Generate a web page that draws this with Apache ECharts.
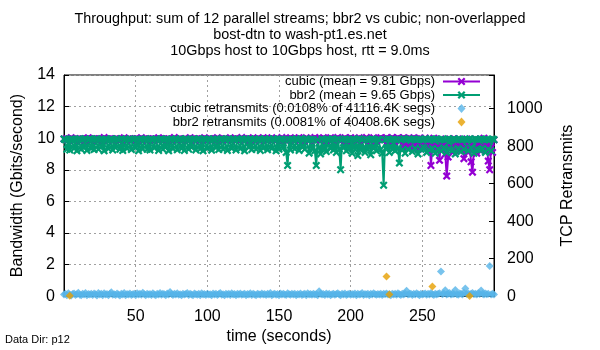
<!DOCTYPE html>
<html>
<head>
<meta charset="utf-8">
<script src="https://cdn.jsdelivr.net/npm/echarts@6/dist/echarts.min.js"></script>
<style>
  html, body { margin: 0; padding: 0; background: #fff; }
  #chart { width: 600px; height: 350px; }
</style>
</head>
<body>
<div id="chart"></div>
<script>
// time axis: one sample per second, starting at t = 0
const startTime = 0
const stepSec = 1

// cubic throughput, Gbps
const cubic = [
  9.95, 9.93, 9.96, 9.92, 9.94, 10.03, 9.95, 9.91, 9.96, 9.93, 9.94, 9.96, 9.92, 9.95, 9.9, 9.94, 9.96, 10.02, 9.93, 9.95,
  9.92, 9.96, 9.94, 9.9, 9.95, 9.93, 9.96, 9.92, 10.04, 9.94, 9.95, 9.91, 9.96, 9.93, 9.94, 9.92, 9.95, 9.96, 9.9, 9.94,
  9.96, 9.93, 10.02, 9.95, 9.92, 9.94, 9.96, 9.91, 9.95, 9.93, 9.94, 9.96, 9.92, 9.95, 10.03, 9.93, 9.94, 9.96, 9.9, 9.95,
  9.93, 9.94, 9.96, 9.92, 9.95, 9.91, 10.02, 9.94, 9.96, 9.93, 9.95, 9.92, 9.94, 9.96, 9.9, 9.95, 9.93, 10.04, 9.94, 9.92,
  9.95, 9.96, 9.93, 9.91, 9.94, 9.96, 9.92, 9.95, 10.03, 9.93, 9.94, 9.96, 9.9, 9.95, 9.92, 9.94, 9.96, 9.93, 10.02, 9.95,
  9.92, 9.94, 9.96, 9.93, 9.95, 9.9, 9.94, 10.03, 9.96, 9.92, 9.95, 9.93, 9.94, 9.96, 9.91, 9.95, 10.02, 9.93, 9.94, 9.96,
  9.93, 9.95, 9.92, 9.96, 10.04, 9.94, 9.91, 9.95, 9.93, 9.96, 9.92, 9.94, 10.02, 9.95, 9.93, 9.96, 9.9, 9.94, 9.95, 10.03,
  9.94, 9.96, 9.92, 9.95, 9.93, 10.02, 9.94, 9.91, 9.96, 9.93, 9.95, 9.92, 10.04, 9.94, 9.88, 9.95, 9.93, 9.96, 10.02, 9.94,
  9.95, 9.92, 9.96, 9.93, 10.03, 9.9, 9.94, 9.96, 9.92, 10.02, 9.95, 9.88, 9.94, 9.96, 9.93, 10.04, 9.9, 9.95, 9.93, 9.96,
  9.92, 10.03, 9.94, 9.88, 9.96, 9.93, 10.02, 9.95, 9.91, 9.94, 9.96, 10.04, 9.92, 9.95, 9.93, 9.9, 10.02, 9.86, 9.95, 9.94,
  10.03, 9.92, 9.96, 9.94, 9.9, 9.95, 10.02, 9.93, 9.96, 9.88, 9.94, 10.04, 9.95, 9.92, 9.86, 9.96, 10.02, 9.93, 9.9, 9.95,
  9.94, 10.03, 9.88, 9.96, 9.93, 10.02, 9.85, 9.95, 9.92, 10.04, 9.9, 9.94, 9.96, 10.02, 9.8, 9.95, 9.93, 10.03, 9.6, 9.96,
  9.5, 10.0, 9.95, 9.4, 10.02, 9.6, 9.97, 9.3, 10.0, 9.55, 9.9, 9.35, 10.01, 9.6, 9.2, 9.95, 8.27, 9.5, 10.0, 9.3,
  9.9, 9.45, 8.6, 9.95, 9.25, 9.6, 9.0, 7.6, 8.8, 9.95, 9.4, 9.1, 9.97, 9.3, 9.55, 9.95, 9.2, 9.6, 9.9, 8.7,
  9.35, 9.95, 9.1, 9.5, 8.5, 7.85, 9.3, 9.95, 9.05, 9.6, 9.9, 9.2, 9.45, 10.0, 9.3, 9.55, 8.55, 8.0, 9.4, 9.1, 9.9
]

// bbr2 throughput, Gbps
const bbr2 = [
  9.95, 9.9, 9.3, 9.92, 9.25, 9.96, 9.88, 9.35, 9.9, 9.2, 9.93, 9.97, 9.3, 9.9, 9.4, 9.95, 9.22, 9.9, 9.96, 9.35,
  9.9, 9.28, 9.93, 9.97, 9.3, 9.9, 9.45, 9.92, 9.2, 9.95, 9.9, 9.33, 9.88, 9.96, 9.25, 9.9, 9.4, 9.94, 9.9, 9.3,
  9.97, 9.22, 9.9, 9.93, 9.35, 9.9, 9.96, 9.28, 9.92, 9.9, 9.4, 9.95, 9.2, 9.9, 9.93, 9.32, 9.9, 9.97, 9.3, 9.9,
  9.25, 9.93, 9.9, 9.38, 9.95, 9.9, 9.22, 9.92, 9.96, 9.3, 9.9, 9.45, 9.93, 9.2, 9.9, 9.95, 9.33, 9.9, 9.97, 9.26,
  9.9, 9.94, 9.35, 9.9, 9.22, 9.96, 9.9, 9.3, 9.93, 9.42, 9.9, 9.95, 9.25, 9.9, 9.97, 9.32, 9.9, 9.2, 9.94, 9.9,
  9.35, 9.96, 9.9, 9.24, 9.93, 9.9, 9.4, 9.95, 9.28, 9.9, 9.97, 9.3, 9.9, 9.92, 9.22, 9.96, 9.9, 9.36, 9.93, 9.9,
  9.25, 9.95, 9.9, 9.33, 9.97, 9.9, 9.2, 9.93, 9.9, 9.42, 9.96, 9.28, 9.9, 9.94, 9.3, 9.9, 9.95, 9.22, 9.9, 9.37,
  9.96, 9.9, 9.26, 9.93, 9.9, 9.35, 9.97, 9.9, 9.2, 9.94, 9.3, 9.9, 9.95, 9.4, 9.9, 9.1, 8.27, 9.9, 9.25, 9.93,
  9.9, 9.32, 9.96, 9.9, 9.22, 9.94, 9.45, 9.9, 9.3, 9.97, 9.9, 9.05, 9.93, 9.35, 9.9, 9.2, 8.27, 9.9, 9.4, 9.0,
  9.95, 9.3, 9.9, 9.15, 9.93, 9.9, 9.35, 9.96, 9.25, 9.9, 9.1, 9.94, 9.3, 8.0, 9.9, 9.4, 9.95, 9.2, 9.9, 9.33,
  9.9, 9.05, 9.94, 9.3, 9.9, 8.9, 9.96, 9.25, 9.9, 9.4, 9.1, 9.93, 9.3, 9.9, 8.95, 9.95, 9.35, 9.9, 9.2, 9.93,
  9.9, 9.3, 9.05, 7.02, 9.9, 9.4, 9.95, 9.1, 9.9, 9.3, 9.93, 9.2, 9.9, 9.35, 8.42, 9.9, 9.25, 9.96, 9.05, 9.9,
  9.3, 9.94, 9.9, 9.15, 9.95, 9.35, 9.9, 9.0, 9.93, 9.3, 9.9, 9.4, 9.96, 9.1, 9.9, 9.25, 9.94, 9.35, 9.9, 9.05,
  9.95, 9.3, 9.9, 9.2, 9.93, 9.4, 9.9, 9.1, 9.96, 9.3, 9.9, 9.25, 9.94, 9.0, 9.9, 9.35, 9.95, 9.15, 9.9, 9.3,
  9.93, 9.9, 9.2, 9.96, 9.4, 9.9, 9.05, 9.94, 9.3, 9.9, 9.25, 9.95, 9.35, 9.9, 9.1, 9.93, 9.3, 9.9, 9.2, 9.95, 9.9
]

// cubic retransmits per second
const cubicRetrans = [
  8, 12, 5, 15, 9, 3, 11, 14, 6, 10, 18, 7, 4, 13, 9, 16, 5, 11, 8, 12,
  6, 14, 10, 3, 17, 9, 12, 5, 15, 8, 11, 4, 13, 20, 7, 10, 6, 14, 9, 3,
  12, 8, 16, 5, 11, 9, 14, 6, 10, 13, 4, 15, 8, 12, 7, 18, 10, 5, 13, 9,
  11, 6, 15, 8, 4, 12, 9, 16, 7, 13, 10, 5, 14, 8, 22, 11, 6, 12, 9, 15,
  7, 10, 4, 13, 8, 11, 16, 6, 12, 9, 5, 14, 10, 7, 12, 4, 15, 9, 11, 6,
  13, 8, 10, 5, 14, 9, 12, 6, 11, 16, 7, 10, 4, 13, 9, 12, 6, 15, 8, 11,
  5, 12, 9, 14, 7, 10, 13, 4, 11, 8, 15, 6, 12, 9, 5, 13, 10, 7, 14, 8,
  11, 6, 12, 9, 16, 5, 10, 13, 7, 11, 4, 14, 8, 12, 9, 6, 15, 10, 7, 12,
  9, 13, 5, 11, 8, 14, 6, 10, 12, 4, 15, 9, 11, 7, 13, 8, 10, 5, 26, 12,
  8, 11, 6, 14, 9, 12, 5, 10, 13, 7, 11, 15, 8, 4, 12, 9, 14, 6, 10, 13,
  7, 11, 9, 14, 5, 12, 8, 10, 16, 6, 11, 9, 13, 4, 12, 8, 15, 10, 7, 11,
  9, 13, 6, 12, 10, 14, 8, 11, 5, 13, 9, 12, 7, 15, 10, 6, 12, 9, 14, 28,
  8, 11, 13, 6, 12, 9, 15, 10, 5, 13, 8, 11, 14, 7, 12, 9, 16, 10, 6, 13,
  9, 12, 15, 131, 10, 14, 31, 8, 12, 16, 9, 13, 11, 33, 10, 7, 14, 12, 9, 18,
  40, 11, 14, 8, 12, 16, 10, 13, 9, 15, 11, 30, 12, 8, 14, 10, 13, 161, 9, 12, 8
]

// bbr2 retransmits: [time, count], only the ones that show above the cubic ones
const bbr2Retrans = [[4, 2], [225, 104], [227, 9], [257, 51], [283, 1]]

const legendNames = [
  'cubic (mean = 9.81 Gbps)',
  'bbr2 (mean = 9.65 Gbps)',
  'cubic retransmits (0.0108% of 41116.4K segs)',
  'bbr2 retransmits (0.0081% of 40408.6K segs)'
]

const xMax = 300
const xTick = 50
const yMax = 14
const yTick = 2
const y2Max = 1180
const y2Tick = 200
const y2LabelMax = 1000

const FONT = 'Liberation Sans, Arial, sans-serif'
const crossSymbol = 'path://M0,2L2,0L5,3L8,0L10,2L7,5L10,8L8,10L5,7L2,10L0,8L3,5Z'
// diamond centred in a box the size of the legend icon, so it is not stretched
const legendDiamond = 'path://M0,0M37,10M18.5,0.5L22.5,5L18.5,9.5L14.5,5Z'

function withTime (vals) {
  return vals.map((v, i) => [startTime + i * stepSec, v])
}

const chart = echarts.init(document.getElementById('chart'))

const gridLine = {
  show: true,
  lineStyle: { color: '#a0a0a0', type: [2, 3], width: 1 }
}

const option = {
  animation: false,
  backgroundColor: '#fff',
  textStyle: { fontFamily: FONT },
  title: {
    text: 'Throughput: sum of 12 parallel streams; bbr2 vs cubic; non-overlapped\nbost-dtn to wash-pt1.es.net\n10Gbps host to 10Gbps host, rtt = 9.0ms',
    left: 'center',
    top: 6,
    textStyle: {
      fontFamily: FONT,
      fontSize: 14.4,
      fontWeight: 'normal',
      color: '#000',
      lineHeight: 16,
      align: 'center'
    }
  },
  legend: {
    orient: 'vertical',
    align: 'right',
    right: 114,
    top: 70,
    itemWidth: 37,
    itemHeight: 10,
    itemGap: 0.5,
    textStyle: { fontFamily: FONT, fontSize: 13, color: '#000', lineHeight: 13, padding: [0, 3, 0, 0] },
    data: [
      legendNames[0],
      legendNames[1],
      { name: legendNames[2], icon: legendDiamond },
      { name: legendNames[3], icon: legendDiamond }
    ]
  },
  grid: {
    left: 64,
    right: 106,
    top: 75,
    bottom: 51,
    show: true,
    borderColor: '#000',
    borderWidth: 1,
    containLabel: false
  },
  xAxis: {
    type: 'value',
    min: 0,
    max: xMax,
    interval: xTick,
    name: 'time (seconds)',
    nameLocation: 'middle',
    nameGap: 23,
    nameTextStyle: { fontFamily: FONT, fontSize: 16, color: '#000' },
    axisLine: { lineStyle: { color: '#000' } },
    axisTick: { inside: true, length: 5, lineStyle: { color: '#000' } },
    axisLabel: {
      fontFamily: FONT,
      fontSize: 16,
      color: '#000',
      margin: 12,
      formatter: v => (v === 0 || v === xMax) ? '' : String(v)
    },
    splitLine: gridLine
  },
  yAxis: [
    {
      type: 'value',
      min: 0,
      max: yMax,
      interval: yTick,
      name: 'Bandwidth (Gbits/second)',
      nameLocation: 'middle',
      nameGap: 38,
      nameTextStyle: { fontFamily: FONT, fontSize: 16, color: '#000' },
      axisLine: { show: true, lineStyle: { color: '#000' } },
      axisTick: { show: true, inside: true, length: 5, lineStyle: { color: '#000' } },
      axisLabel: { fontFamily: FONT, fontSize: 16, color: '#000', margin: 9 },
      splitLine: gridLine
    },
    {
      type: 'value',
      min: 0,
      max: y2Max,
      interval: y2Tick,
      name: 'TCP Retransmits',
      nameLocation: 'middle',
      nameGap: 66,
      nameTextStyle: { fontFamily: FONT, fontSize: 16, color: '#000' },
      axisLine: { show: true, lineStyle: { color: '#000' } },
      axisTick: { show: true, inside: true, length: 5, lineStyle: { color: '#000' } },
      axisLabel: {
        fontFamily: FONT,
        fontSize: 16,
        color: '#000',
        margin: 13,
        formatter: v => (v <= y2LabelMax && v % y2Tick === 0) ? String(v) : ''
      },
      splitLine: { show: false }
    }
  ],
  series: [
    {
      name: legendNames[0],
      type: 'line',
      data: withTime(cubic),
      yAxisIndex: 0,
      symbol: crossSymbol,
      symbolSize: 8,
      showAllSymbol: true,
      color: '#9400d3',
      lineStyle: { color: '#9400d3', width: 2 },
      itemStyle: { color: '#9400d3' }
    },
    {
      name: legendNames[1],
      type: 'line',
      data: withTime(bbr2),
      yAxisIndex: 0,
      symbol: crossSymbol,
      symbolSize: 8,
      showAllSymbol: true,
      color: '#009e73',
      lineStyle: { color: '#009e73', width: 2 },
      itemStyle: { color: '#009e73' }
    },
    {
      name: legendNames[2],
      type: 'scatter',
      data: withTime(cubicRetrans),
      yAxisIndex: 1,
      symbol: 'diamond',
      symbolSize: 8,
      color: '#56b4e9',
      itemStyle: { color: '#56b4e9' }
    },
    {
      name: legendNames[3],
      type: 'scatter',
      data: bbr2Retrans,
      yAxisIndex: 1,
      symbol: 'diamond',
      symbolSize: 8,
      color: '#e69f00',
      itemStyle: { color: '#e69f00' }
    }
  ],
  graphic: [
    {
      type: 'text',
      left: 5,
      top: 334,
      style: { text: 'Data Dir: p12', fontFamily: FONT, fontSize: 11, fill: '#000' }
    }
  ]
}

chart.setOption(option)
</script>
</body>
</html>
